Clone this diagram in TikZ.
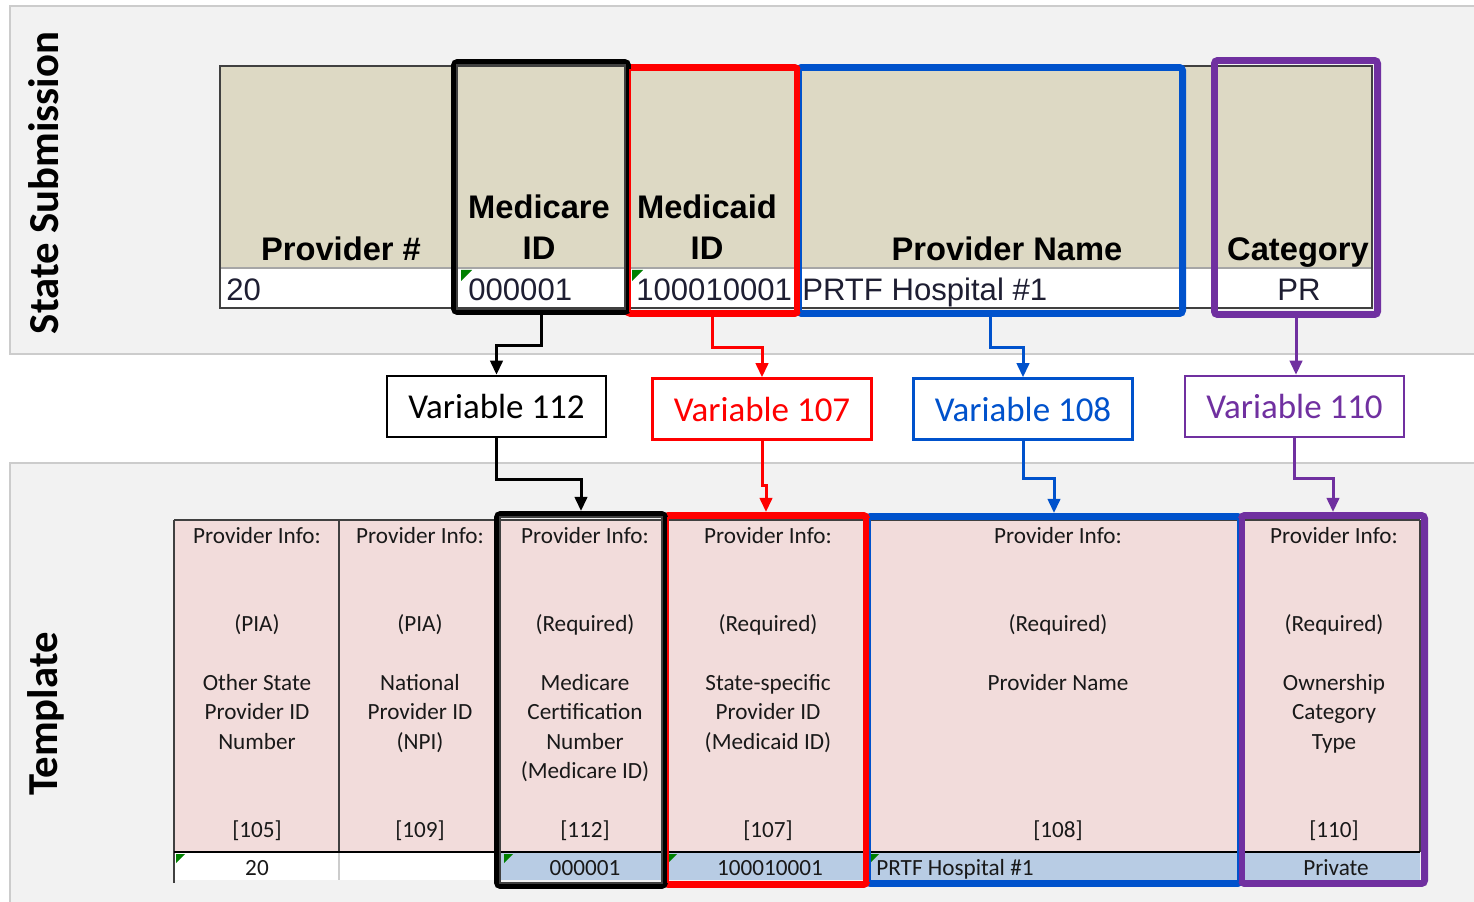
\documentclass[tikz,border=0pt]{standalone}
\usepackage{fontspec}
\setmainfont{Carlito}
\newfontfamily\arial{Liberation Sans}
\usetikzlibrary{arrows.meta,fit}
\definecolor{panelgrey}{HTML}{F2F2F2}
\definecolor{panelline}{HTML}{CCCCCC}
\definecolor{tanfill}{HTML}{DDD9C4}
\definecolor{pinkfill}{HTML}{F2DCDB}
\definecolor{bluefill}{HTML}{B8CCE4}
\definecolor{selred}{HTML}{FF0000}
\definecolor{selblue}{HTML}{0052CC}
\definecolor{selpurple}{HTML}{7030A0}
\definecolor{gridline}{HTML}{404040}
\definecolor{xlgreen}{HTML}{008000}
\definecolor{inktxt}{HTML}{1E1E32}
\newcommand{\px}{0.02cm}

\begin{document}
\begin{tikzpicture}[x=\px,y=-\px,
  panel/.style={fill=panelgrey,draw=panelline,line width=0.8pt},
  hdrtxt/.style={font=\arial\bfseries\fontsize{18.6}{23.2}\selectfont,align=center,inner sep=0},
  datatxt/.style={font=\arial\fontsize{17.7}{21}\selectfont,text=inktxt,inner sep=0},
  tpltxt/.style={font=\fontsize{13.2}{16.7}\selectfont,align=center,inner sep=0,text=black!90},
  tpldata/.style={font=\fontsize{13.2}{15}\selectfont,inner sep=0,text=black!90},
  sidelabel/.style={font=\bfseries\fontsize{24.3}{28}\selectfont,rotate=90,inner sep=0},
  varbox/.style={draw,line width=1.4pt,fill=white,minimum width=219*\px,minimum height=61*\px,
    font=\fontsize{19.9}{23}\selectfont,inner sep=0},
  sel/.style={draw,line width=3.4pt,rounded corners=2pt,inner sep=0},
  conn/.style={line width=1.7pt,-{Triangle[length=8pt,width=7pt]}},
  xlmark/.style={fill=xlgreen}]
\useasboundingbox (0,0) rectangle (1474,902);
% background bands
\fill[white] (0,0) rectangle (1474,902);
\draw[panel] (10,6) rectangle (1480,354);
\draw[panel] (10,463) rectangle (1480,910);
\node[sidelabel] (lblSub) at (44,183) {State Submission};
\node[sidelabel] (lblTpl) at (46,714) {Template};

% state submission sheet
\fill[tanfill] (220,66) rectangle (1372,268);
\fill[white] (220,268) rectangle (1372,308);
\draw[black!35,line width=0.8pt] (220,268) -- (1372,268);
\foreach \x in {457,626,797,1183,1216}
  \draw[black!45,line width=0.6pt] (\x,66) -- (\x,308);
\draw[gridline,line width=1.2pt] (220,66) -- (1372,66) -- (1372,308) -- (220,308) -- cycle;
\fill[xlmark] (461,270) -- ++(11,0) -- ++(-11,11) -- cycle;
\fill[xlmark] (632,270) -- ++(11,0) -- ++(-11,11) -- cycle;

\node[hdrtxt,anchor=base] (hProv) at (341,260) {Provider \#};
\node[hdrtxt,anchor=south] (hMcare) at (539,260) {Medicare\\ID};
\node[hdrtxt,anchor=south] (hMcaid) at (707,260) {Medicaid\\ID};
\node[hdrtxt,anchor=base] (hName) at (1007,260) {Provider Name};
\node[hdrtxt,anchor=base] (hCat) at (1298,260) {Category};
\node[datatxt,anchor=base west] (dProv) at (226,300) {20};
\node[datatxt,anchor=base west] (dMcare) at (468,300) {000001};
\node[datatxt,anchor=base west] (dMcaid) at (636,300) {100010001};
\node[datatxt,anchor=base west] (dName) at (802,300) {PRTF Hospital \#1};
\node[datatxt,anchor=base] (dCat) at (1299,300) {PR};

% template sheet
\fill[pinkfill] (174,520) rectangle (1420,852);
\fill[white] (174,852) rectangle (500,880);
\fill[bluefill] (500,852) rectangle (1420,880);
\foreach \x in {339,500,664,866,1240,1420}
  \draw[gridline,line width=1pt] (\x,520) -- (\x,852);
\draw[black!20,line width=0.6pt] (339,852) -- (339,880);
\draw[gridline,line width=1.2pt] (174,520) -- (1420,520);
\draw[gridline,line width=1.5pt] (174,520) -- (174,883);
\draw[black,line width=1.6pt] (174,852) -- (1420,852);
\foreach \x in {176,504,668,870}
  \fill[xlmark] (\x,854) -- ++(9,0) -- ++(-9,9) -- cycle;

\node[tpltxt] (tOther) at (257,684) {Provider Info:\\~\\~\\(PIA)\\~\\Other State\\Provider ID\\Number\\~\\~\\{[105]}};
\node[tpltxt] (tNpi) at (420,684) {Provider Info:\\~\\~\\(PIA)\\~\\National\\Provider ID\\(NPI)\\~\\~\\{[109]}};
\node[tpltxt] (tMcare) at (585,684) {Provider Info:\\~\\~\\(Required)\\~\\Medicare\\Certification\\Number\\(Medicare ID)\\~\\{[112]}};
\node[tpltxt] (tMcaid) at (768,684) {Provider Info:\\~\\~\\(Required)\\~\\State-specific\\Provider ID\\(Medicaid ID)\\~\\~\\{[107]}};
\node[tpltxt] (tName) at (1058,684) {Provider Info:\\~\\~\\(Required)\\~\\Provider Name\\~\\~\\~\\~\\{[108]}};
\node[tpltxt] (tOwn) at (1334,684) {Provider Info:\\~\\~\\(Required)\\~\\Ownership\\Category\\Type\\~\\~\\{[110]}};
\node[tpldata,anchor=base] (vOther) at (257,875) {20};
\node[tpldata,anchor=base] (vMcare) at (585,875) {000001};
\node[tpldata,anchor=base] (vMcaid) at (770,875) {100010001};
\node[tpldata,anchor=base west] (vName) at (876,875) {PRTF Hospital \#1};
\node[tpldata,anchor=base] (vOwn) at (1336,875) {Private};

% highlighted columns
\node[sel,draw=selblue,fit={(798,67) (1183,314)}] (srcName) {};
\node[sel,draw=selred,fit={(627,67) (798,314)}] (srcMcaid) {};
\node[sel,draw=black,fit={(454,62) (628,312)}] (srcMcare) {};
\node[sel,draw=selpurple,fit={(1214,60) (1378,315)}] (srcCat) {};
\node[sel,draw=selblue,fit={(867,516) (1241,884)}] (dstName) {};
\node[sel,draw=selred,fit={(665,515) (867,885)}] (dstMcaid) {};
\node[sel,draw=black,fit={(497,514) (665,886)}] (dstMcare) {};
\node[sel,draw=selpurple,fit={(1241,515) (1425,884)}] (dstOwn) {};
\foreach \n/\c in {srcName/selblue,srcMcaid/selred,srcMcare/gridline,srcCat/selpurple,
                   dstName/selblue,dstMcaid/selred,dstMcare/gridline,dstOwn/selpurple}
  \draw[\c,line width=0.7pt] ([shift={(6,6)}]\n.north west) rectangle ([shift={(-6,-6)}]\n.south east);

% variable boxes
\node[varbox] (var112) at (496.5,406.5) {Variable 112};
\node[varbox,draw=selred,text=selred] (var107) at (762,409) {Variable 107};
\node[varbox,draw=selblue,text=selblue] (var108) at (1023,409) {Variable 108};
\node[varbox,draw=selpurple,text=selpurple] (var110) at (1294.5,406.5) {Variable 110};

% connectors
\draw[conn] (srcMcare.south) -- ++(0,31) -| (var112.north);
\draw[conn,selred] (srcMcaid.south) -- ++(0,31) -| (var107.north);
\draw[conn,selblue] (srcName.south) -- ++(0,31) -| (var108.north);
\draw[conn,selpurple] (srcCat.south) -- (srcCat.south |- var110.north);
\draw[conn] (var112.south) -- ++(0,41) -| (dstMcare.north);
\draw[conn,selred] (var107.south) -- ++(0,45) -| (dstMcaid.north);
\draw[conn,selblue] (var108.south) -- ++(0,38) -| (dstName.north);
\draw[conn,selpurple] (var110.south) -- ++(0,40) -| (dstOwn.north);
\end{tikzpicture}
\end{document}
